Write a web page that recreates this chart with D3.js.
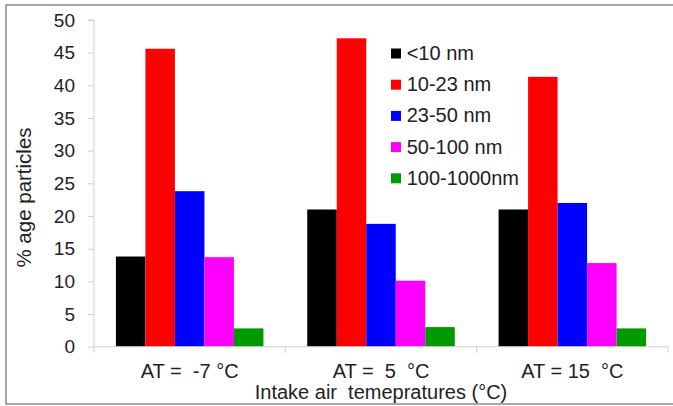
<!DOCTYPE html>
<html>
<head>
<meta charset="utf-8">
<script src="https://cdn.jsdelivr.net/npm/d3@7"></script>
<style>
  html, body { margin: 0; padding: 0; background: #fff; }
  svg text { font-family: "Liberation Sans", Arial, sans-serif; fill: #222; }
</style>
</head>
<body>
<svg id="chart" width="673" height="406"></svg>
<script>
const categories = ["AT =  -7 °C", "AT =  5  °C", "AT = 15  °C"];
const seriesNames = ["<10 nm", "10-23 nm", "23-50 nm", "50-100 nm", "100-1000nm"];
const seriesColors = ["#000000", "#ff0000", "#0000ff", "#ff00ff", "#009900"];
const valuesLt10 = [13.8, 21.0, 21.0];
const values10to23 = [45.6, 47.2, 41.3];
const values23to50 = [23.8, 18.8, 22.0];
const values50to100 = [13.7, 10.1, 12.8];
const values100to1000 = [2.8, 3.0, 2.8];
const yTicks = [0, 5, 10, 15, 20, 25, 30, 35, 40, 45, 50];
const xTitle = "Intake air  temepratures (°C)";
const yTitle = "% age particles";

const series = [valuesLt10, values10to23, values23to50, values50to100, values100to1000];

const svg = d3.select("#chart");
const W = 673;
const mLeft = 94, mRight = 668, mTop = 20, mBottom = 346.7;

// outer border
svg.append("rect").attr("x", 6).attr("y", 5).attr("width", W).attr("height", 399)
  .attr("fill", "none").attr("stroke", "#8a8a8a").attr("stroke-width", 1.5);

const x0 = d3.scaleBand().domain(categories).range([mLeft, mRight])
  .paddingInner(0.229).paddingOuter(0.1145);
const x1 = d3.scaleBand().domain(d3.range(seriesNames.length)).range([0, x0.bandwidth()]);
const y = d3.scaleLinear().domain([0, 50]).range([mBottom, mTop]);

// bars
const groups = svg.append("g").selectAll("g").data(categories).join("g")
  .attr("transform", d => `translate(${x0(d)},0)`);
groups.selectAll("rect")
  .data((c, ci) => series.map((s, si) => ({ si, v: s[ci] })))
  .join("rect")
  .attr("x", d => x1(d.si))
  .attr("width", x1.bandwidth())
  .attr("y", d => y(d.v))
  .attr("height", d => y(0) - y(d.v))
  .attr("fill", d => seriesColors[d.si]);

// y axis
const yAxis = svg.append("g").attr("transform", `translate(${mLeft},0)`)
  .call(d3.axisLeft(y).tickValues(yTicks).tickSize(6).tickPadding(13).tickFormat(d3.format("d")));
yAxis.select(".domain").attr("stroke", "#cfcfcf").attr("d", `M-6,${mTop}H0V${mBottom}`);
yAxis.selectAll(".tick line").attr("stroke", "#cfcfcf");
yAxis.selectAll(".tick text").attr("font-size", "19px").attr("fill", "#222")
  .attr("font-family", "Liberation Sans, Arial, sans-serif");

// x axis
const xAxisG = svg.append("g").attr("transform", `translate(0,${mBottom})`);
xAxisG.append("line").attr("x1", mLeft).attr("x2", mRight).attr("y1", 0).attr("y2", 0)
  .attr("stroke", "#cfcfcf");
const xTickPos = [mLeft].concat(categories.map(c => x0(c) + x0.bandwidth() + x0.step() * x0.paddingInner() / 2));
xTickPos[xTickPos.length - 1] = mRight;
xAxisG.selectAll("line.xt").data(xTickPos).join("line").attr("class", "xt")
  .attr("x1", d => d).attr("x2", d => d).attr("y1", 0).attr("y2", 6)
  .attr("stroke", "#cfcfcf");
svg.append("g").selectAll("text").data(categories).join("text")
  .attr("x", d => x0(d) + x0.bandwidth() / 2)
  .attr("y", 377.5)
  .attr("text-anchor", "middle")
  .attr("font-size", "20px")
  .style("white-space", "pre")
  .text(d => d);

// axis titles
svg.append("text").attr("x", (mLeft + mRight) / 2).attr("y", 398.5)
  .attr("text-anchor", "middle").attr("font-size", "20px").style("white-space", "pre")
  .text(xTitle);
svg.append("text").attr("transform", "translate(31,197.5) rotate(-90)")
  .attr("text-anchor", "middle").attr("font-size", "20.5px").text(yTitle);

// legend
const legend = svg.append("g").selectAll("g").data(seriesNames).join("g")
  .attr("transform", (d, i) => `translate(391,${60 + i * 31.2})`);
legend.append("rect").attr("x", 0).attr("y", -11.5).attr("width", 10).attr("height", 10)
  .attr("fill", (d, i) => seriesColors[i]);
legend.append("text").attr("x", 15.7).attr("y", 0).attr("font-size", "20px").text(d => d);
</script>
</body>
</html>
